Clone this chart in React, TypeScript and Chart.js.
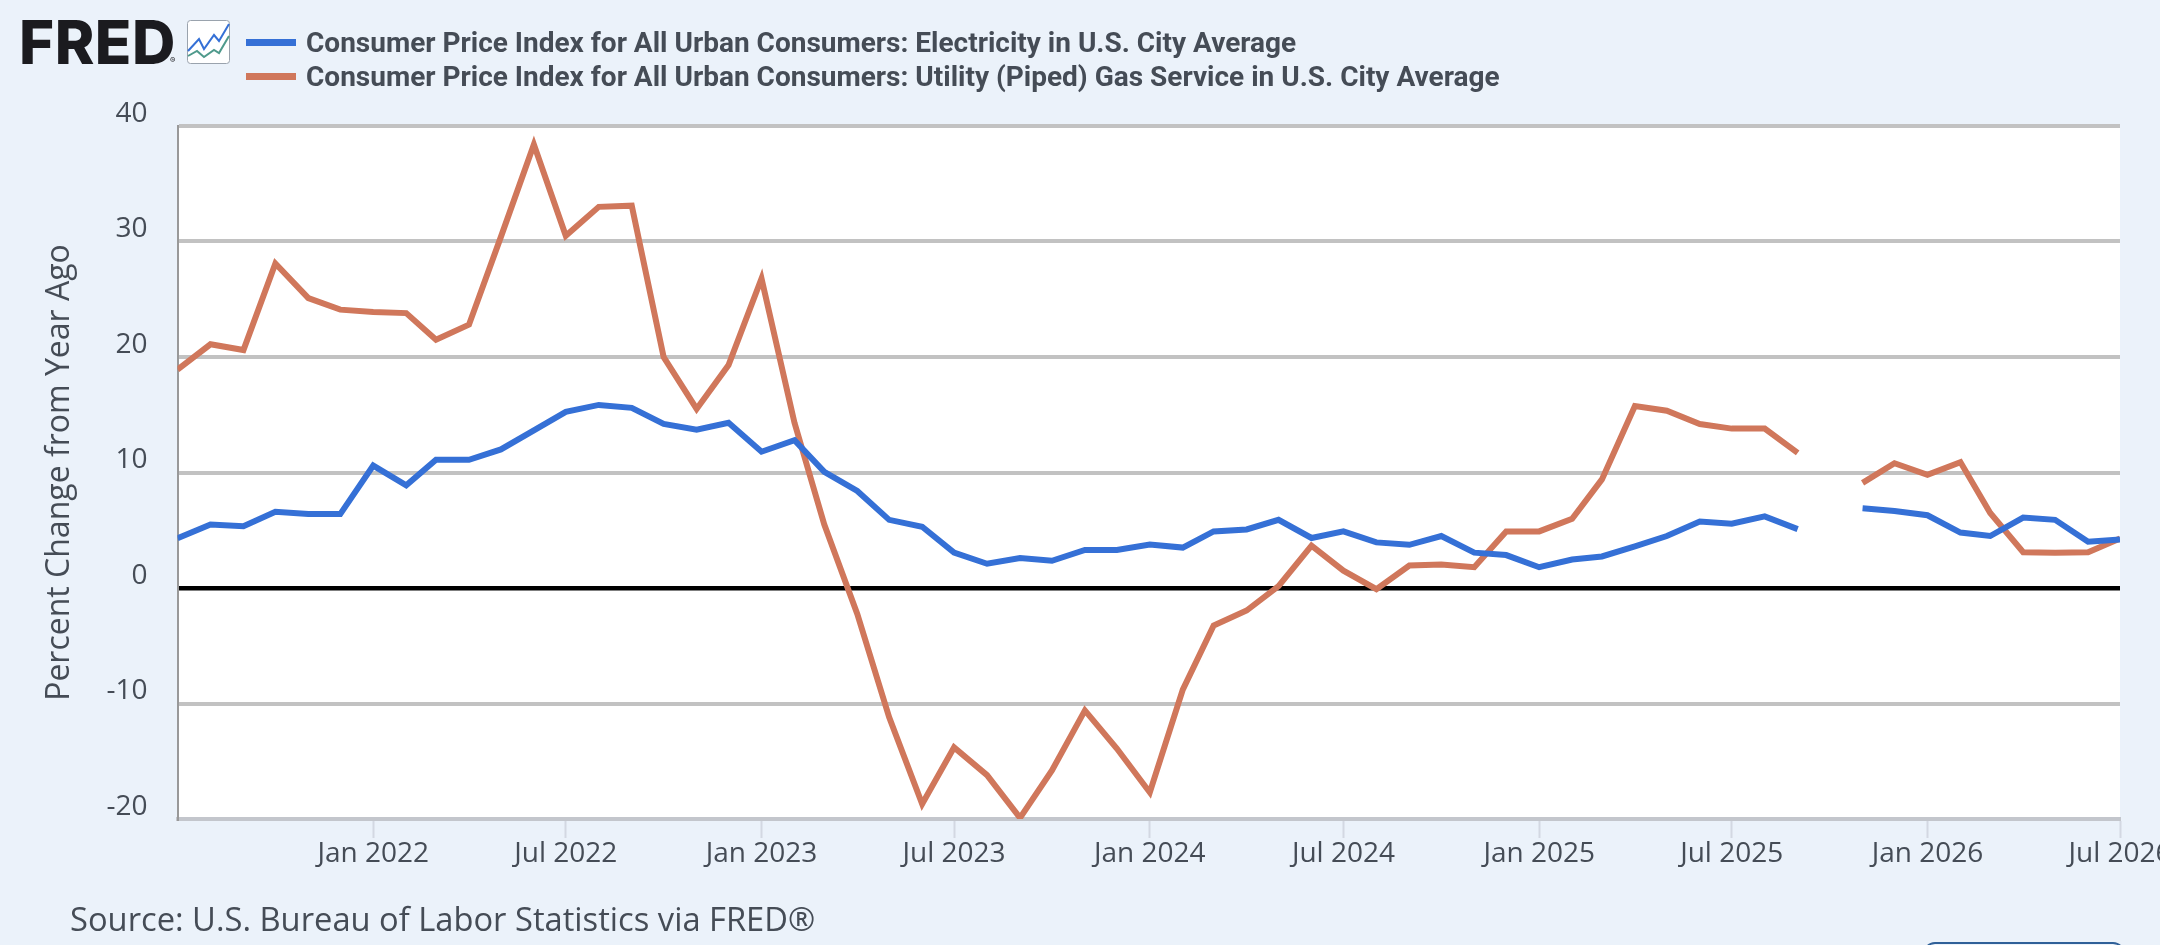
import React, { useEffect, useRef } from "react";
import { Chart, registerables } from "chart.js";

Chart.register(...registerables);

const months = [
  "Jul 2021", "Aug 2021", "Sep 2021", "Oct 2021", "Nov 2021", "Dec 2021",
  "Jan 2022", "Feb 2022", "Mar 2022", "Apr 2022", "May 2022", "Jun 2022",
  "Jul 2022", "Aug 2022", "Sep 2022", "Oct 2022", "Nov 2022", "Dec 2022",
  "Jan 2023", "Feb 2023", "Mar 2023", "Apr 2023", "May 2023", "Jun 2023",
  "Jul 2023", "Aug 2023", "Sep 2023", "Oct 2023", "Nov 2023", "Dec 2023",
  "Jan 2024", "Feb 2024", "Mar 2024", "Apr 2024", "May 2024", "Jun 2024",
  "Jul 2024", "Aug 2024", "Sep 2024", "Oct 2024", "Nov 2024", "Dec 2024",
  "Jan 2025", "Feb 2025", "Mar 2025", "Apr 2025", "May 2025", "Jun 2025",
  "Jul 2025", "Aug 2025", "Sep 2025", "Oct 2025", "Nov 2025", "Dec 2025",
  "Jan 2026", "Feb 2026", "Mar 2026", "Apr 2026", "May 2026", "Jun 2026",
  "Jul 2026",
];

const electricity = [
  4.3, 5.5, 5.35, 6.6, 6.4, 6.4,
  10.6, 8.9, 11.1, 11.1, 12.0, 13.65,
  15.25, 15.85, 15.6, 14.2, 13.7, 14.3,
  11.8, 12.8, 10.05, 8.4, 5.9, 5.3,
  3.06, 2.1, 2.6, 2.36, 3.3, 3.3,
  3.76, 3.5, 4.9, 5.07, 5.9, 4.33,
  4.9, 3.95, 3.74, 4.5, 3.06, 2.85,
  1.8, 2.47, 2.73, 3.6, 4.5, 5.76,
  5.56, 6.2, 5.1, null, 6.9, 6.67,
  6.3, 4.8, 4.5, 6.1, 5.9, 4.0,
  4.2,
];

const pipedGas = [
  18.9, 21.1, 20.6, 28.1, 25.1, 24.1,
  23.9, 23.8, 21.5, 22.8, 30.4, 38.4,
  30.5, 33.0, 33.1, 20.0, 15.5, 19.3,
  26.8, 14.3, 5.5, -2.25, -11.2, -18.7,
  -13.8, -16.2, -19.9, -15.8, -10.6, -13.9,
  -17.7, -8.8, -3.25, -1.95, 0.17, 3.67,
  1.5, -0.1, 1.95, 2.04, 1.8, 4.9,
  4.9, 6.0, 9.4, 15.75, 15.35, 14.2,
  13.8, 13.8, 11.7, null, 9.1, 10.8,
  9.8, 10.9, 6.5, 3.1, 3.05, 3.1,
  4.28,
];

const xTickLabels = ["Jan 2022", "Jul 2022", "Jan 2023", "Jul 2023", "Jan 2024", "Jul 2024", "Jan 2025", "Jul 2025", "Jan 2026", "Jul 2026"];

const electricityName = "Consumer Price Index for All Urban Consumers: Electricity in U.S. City Average";
const gasName = "Consumer Price Index for All Urban Consumers: Utility (Piped) Gas Service in U.S. City Average";
const yTitle = "Percent Change from Year Ago";
const sourceText = "Source: U.S. Bureau of Labor Statistics via FRED®";

const BLUE = "#3570d6";
const ORANGE = "#d0775b";
const TEXT = "#454c56";
const PAGE_BG = "#ebf2fa";

const toTime = (label: string) => Date.parse(label.replace(" ", " 1, ") + " UTC");
const labelForTime = new Map(xTickLabels.map((l) => [toTime(l), l]));

const plotBackground = {
  id: "plotBackground",
  beforeDraw(chart: Chart) {
    const { ctx, chartArea: a } = chart;
    ctx.save();
    ctx.fillStyle = "#ffffff";
    ctx.fillRect(a.left, a.top, a.right - a.left, a.bottom - a.top);
    ctx.restore();
  },
};

function Legend() {
  const row = (name: string, color: string, top: number) => (
    <div style={{ position: "absolute", left: 246, top, height: 34, display: "flex", alignItems: "center" }}>
      <span style={{ width: 50, height: 7, background: color, marginRight: 10 }} />
      <span style={{ font: "700 28px Roboto", color: TEXT, whiteSpace: "nowrap" }}>{name}</span>
    </div>
  );
  return (
    <>
      {row(electricityName, BLUE, 25)}
      {row(gasName, ORANGE, 59)}
    </>
  );
}

function Logo() {
  return (
    <>
      <div style={{ position: "absolute", left: 19, top: 6, font: "800 60px Inter", letterSpacing: 0.5, color: "#1b1b1f", lineHeight: "72px" }}>FRED</div>
      <div style={{ position: "absolute", left: 170, top: 55, font: "8px Inter", color: "#1b1b1f" }}>®</div>
      <svg style={{ position: "absolute", left: 187, top: 20 }} width="44" height="44" viewBox="0 0 44 44">
        <rect x="0.5" y="0.5" width="42" height="43" rx="3" fill="#fff" stroke="#9aa3ad" />
        <polyline points="1,31 12,19 17,29 27,15 32,21 42,4" fill="none" stroke="#3570d6" strokeWidth="2" />
        <polyline points="1,36 10,31 17,37 27,30 32,33 42,16" fill="none" stroke="#4f9a8c" strokeWidth="2" />
      </svg>
    </>
  );
}

export default function App() {
  const canvasRef = useRef<HTMLCanvasElement | null>(null);

  useEffect(() => {
    document.body.style.margin = "0";
    const canvas = canvasRef.current;
    if (!canvas) return;

    const times = months.map(toTime);
    const chart = new Chart(canvas, {
      type: "line",
      data: {
        datasets: [
          {
            label: electricityName,
            data: electricity.map((v, i) => ({ x: times[i], y: v })),
            borderColor: BLUE,
            borderWidth: 6,
          },
          {
            label: gasName,
            data: pipedGas.map((v, i) => ({ x: times[i], y: v })),
            borderColor: ORANGE,
            borderWidth: 6,
          },
        ],
      },
      options: {
        animation: false,
        responsive: false,
        devicePixelRatio: 1,
        spanGaps: false,
        parsing: false,
        layout: { padding: { left: 41, right: 80, top: 126, bottom: 0 } },
        elements: {
          point: { radius: 0 },
          line: { tension: 0, borderJoinStyle: "miter", borderCapStyle: "butt" },
        },
        plugins: { legend: { display: false }, tooltip: { enabled: false } },
        scales: {
          x: {
            type: "linear",
            min: times[0],
            max: times[times.length - 1],
            afterBuildTicks: (scale: any) => {
              scale.ticks = xTickLabels.map((l) => ({ value: toTime(l) }));
            },
            afterFit: (scale: any) => {
              scale.height = 126;
            },
            ticks: {
              autoSkip: false,
              maxRotation: 0,
              padding: -1,
              color: TEXT,
              font: { family: "'Open Sans'", size: 28 },
              callback: (v: any) => labelForTime.get(v) ?? "",
            },
            grid: { drawOnChartArea: false, drawTicks: true, tickLength: 19, tickColor: "#d3d8e2", tickWidth: 2 },
            border: { display: true, color: "#c3c6cc", width: 4 },
          },
          y: {
            min: -20,
            max: 40,
            afterFit: (scale: any) => {
              scale.width = 136.5;
            },
            ticks: {
              stepSize: 10,
              padding: 30,
              labelOffset: -12,
              color: TEXT,
              font: { family: "'Open Sans'", size: 28 },
            },
            title: {
              display: true,
              text: yTitle,
              color: TEXT,
              font: { family: "'Open Sans'", size: 32 },
              padding: { top: 0, bottom: 0 },
            },
            grid: {
              drawTicks: false,
              color: (c: any) => (c.tick?.value === 0 ? "#000000" : "#c2c2c2"),
              lineWidth: (c: any) => (c.tick?.value === 0 ? 4.5 : 4),
            },
            border: { display: true, color: "#999999", width: 2 },
          },
        },
      },
      plugins: [plotBackground],
    });

    return () => chart.destroy();
  }, []);

  return (
    <div style={{ position: "relative", width: 2160, height: 945, overflow: "hidden", background: PAGE_BG }}>
      <canvas ref={canvasRef} width={2200} height={945} style={{ position: "absolute", left: 0, top: 0, width: 2200, height: 945 }} />
      <Logo />
      <Legend />
      <div style={{ position: "absolute", left: 70, top: 896, font: "32.7px 'Open Sans'", color: TEXT, whiteSpace: "nowrap" }}>{sourceText}</div>
      <div style={{ position: "absolute", left: 1923, top: 942, width: 198, height: 20, border: "2px solid #2f6098", borderRadius: 12 }} />
    </div>
  );
}
